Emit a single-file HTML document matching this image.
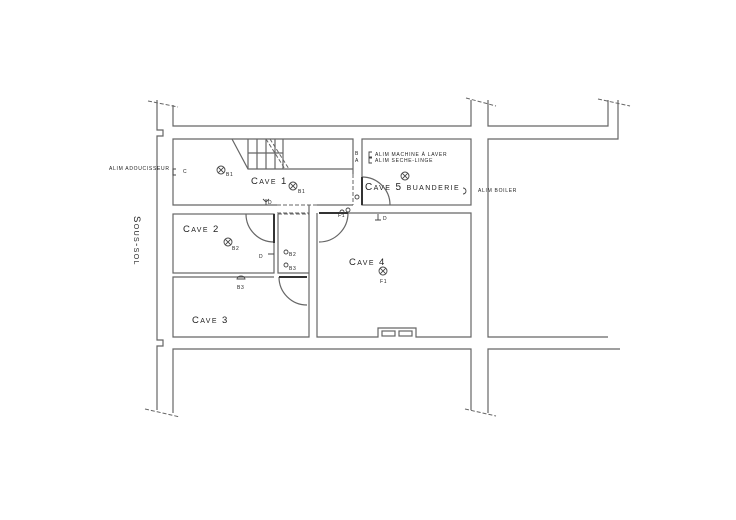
<!DOCTYPE html>
<html><head><meta charset="utf-8"><style>
html,body{margin:0;padding:0;background:#fff;}
svg{display:block;}
text{font-family:"Liberation Sans",sans-serif;fill:#222;}
.c{font-size:9.5px;font-variant:small-caps;letter-spacing:1.4px;}
.s{font-size:5px;letter-spacing:0.7px;}
</style></head><body>
<svg width="736" height="520" viewBox="0 0 736 520" xmlns="http://www.w3.org/2000/svg">
<g fill="none" stroke="#666" stroke-width="1.2">
<polyline points="157,100 157,130 163,130 163,136 157,136 157,340 163,340 163,346 157,346 157,410"/>
<polyline points="173,105 173,126 471,126 471,100"/>
<polyline points="488,100 488,126 608,126 608,100"/>
<polyline points="618,100 618,139 488,139 488,337 608,337"/>
<polyline points="620,349 488,349 488,413"/>
<polyline points="471,410 471,349 173,349 173,413"/>
<polyline points="353,174 353,139 173,139 173,205 277,205"/>
<line x1="353" y1="205" x2="317" y2="205"/>
<rect x="362" y="139" width="109" height="66"/>
<rect x="173" y="214" width="101" height="59"/>
<polyline points="278,214 278,273 309,273"/>
<polyline points="309,205 309,337 173,337 173,277 274,277"/>
<polyline points="317,213 317,337 378,337 378,328 416,328 416,337 471,337 471,213 348,213"/>
<rect x="382" y="331" width="13" height="5"/>
<rect x="399" y="331" width="13" height="5"/>
<polyline points="232,139 248,169 353,169"/>
<line x1="248" y1="139" x2="248" y2="169"/>
<line x1="257" y1="139" x2="257" y2="169"/>
<line x1="266" y1="139" x2="266" y2="169"/>
<line x1="275" y1="139" x2="275" y2="169"/>
<line x1="283" y1="139" x2="283" y2="169"/>
<line x1="248" y1="153" x2="283" y2="153"/>
<path d="M246,214 A28,28 0 0 0 274,242"/>
<path d="M279,277 A28,28 0 0 0 307,305"/>
<path d="M348,213 A29,29 0 0 1 319,242"/>
<path d="M362,177 A28,28 0 0 1 390,205"/>
</g>
<g fill="none" stroke="#666" stroke-width="1" stroke-dasharray="4,2">
<line x1="353" y1="174" x2="353" y2="205"/>
<line x1="277" y1="205" x2="317" y2="205"/>
<line x1="277" y1="213" x2="309" y2="213"/>
<line x1="317" y1="205" x2="353" y2="205"/>
<line x1="278" y1="214" x2="309" y2="214"/>
<line x1="278" y1="273" x2="309" y2="273"/>
<line x1="266" y1="139" x2="285" y2="169"/>
<line x1="270" y1="139" x2="289" y2="169"/>
<line x1="148" y1="101" x2="178" y2="107"/>
<line x1="466" y1="98" x2="496" y2="106"/>
<line x1="598" y1="99" x2="630" y2="106"/>
<line x1="145" y1="409" x2="180" y2="417"/>
<line x1="465" y1="409" x2="496" y2="416"/>
</g>
<g stroke="#333" stroke-width="2">
<line x1="274" y1="214" x2="274" y2="243"/>
<line x1="279" y1="277" x2="307" y2="277"/>
<line x1="319" y1="213" x2="348" y2="213"/>
<line x1="362" y1="177" x2="362" y2="205"/>
</g>
<g fill="none" stroke="#444" stroke-width="0.9">
<g transform="translate(221,170)"><circle r="4"/><path d="M-2.8,-2.8L2.8,2.8M-2.8,2.8L2.8,-2.8"/></g>
<g transform="translate(293,186)"><circle r="4"/><path d="M-2.8,-2.8L2.8,2.8M-2.8,2.8L2.8,-2.8"/></g>
<g transform="translate(228,242)"><circle r="4"/><path d="M-2.8,-2.8L2.8,2.8M-2.8,2.8L2.8,-2.8"/></g>
<g transform="translate(405,176)"><circle r="4"/><path d="M-2.8,-2.8L2.8,2.8M-2.8,2.8L2.8,-2.8"/></g>
<g transform="translate(383,271)"><circle r="4"/><path d="M-2.8,-2.8L2.8,2.8M-2.8,2.8L2.8,-2.8"/></g>
<path d="M237,279 A4,3 0 0 1 245,279 Z"/>
<circle cx="286" cy="252" r="2"/><circle cx="286" cy="265" r="2"/>
<circle cx="342" cy="212" r="2"/><circle cx="348" cy="210" r="2"/><circle cx="357" cy="197" r="2"/>
<path d="M176,169 h-3 v6 h3 M372,152 h-3 v6 h3 M372,157 h-3 v6 h3 M463,188 a3,3 0 0 1 0,6"/>
<path d="M378,214 v6 M375,220 h6 M266,199 v6 M263,199 l3,3 l3,-3 M268,254 h6"/>
</g>
<text class="c" x="251" y="184">Cave 1</text>
<text class="c" x="365" y="190" style="font-size:10px">Cave 5 buanderie</text>
<text class="c" x="183" y="232">Cave 2</text>
<text class="c" x="192" y="323">Cave 3</text>
<text class="c" x="349" y="265">Cave 4</text>
<text class="c" transform="translate(134,216) rotate(90)">Sous-sol</text>
<text class="s" x="109" y="170">ALIM ADOUCISSEUR</text>
<text class="s" x="183" y="173">C</text>
<text class="s" x="226" y="176">B1</text>
<text class="s" x="298" y="193">B1</text>
<text class="s" x="232" y="250">B2</text>
<text class="s" x="237" y="289">B3</text>
<text class="s" x="289" y="256">B2</text>
<text class="s" x="289" y="270">B3</text>
<text class="s" x="259" y="258">D</text>
<text class="s" x="268" y="204">D</text>
<text class="s" x="338" y="217">F1</text>
<text class="s" x="380" y="283">F1</text>
<text class="s" x="383" y="220">D</text>
<text class="s" x="355" y="155">B</text>
<text class="s" x="355" y="162">A</text>
<text class="s" x="375" y="156">ALIM MACHINE À LAVER</text>
<text class="s" x="375" y="162">ALIM SECHE-LINGE</text>
<text class="s" x="478" y="192">ALIM BOILER</text>
</svg>
</body></html>
